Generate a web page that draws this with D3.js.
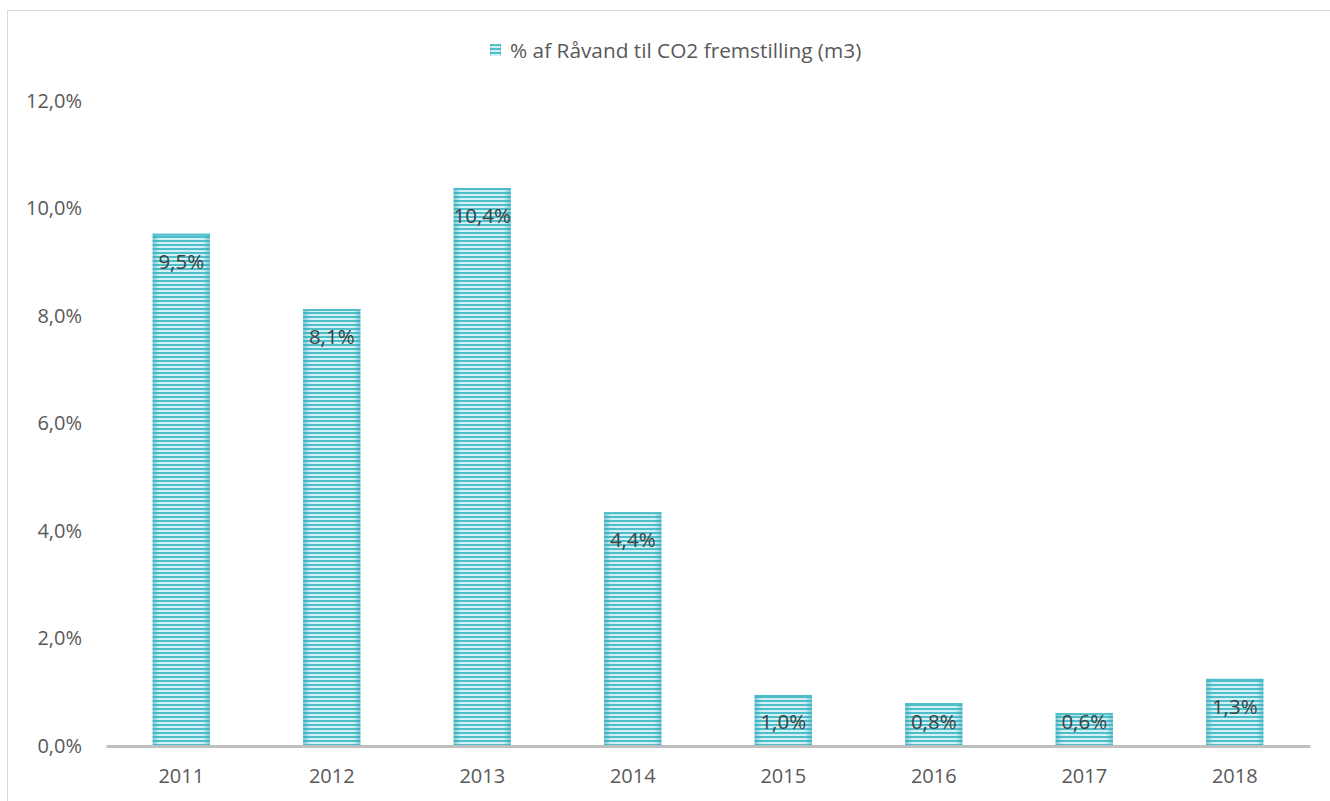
<!DOCTYPE html>
<html>
<head>
<meta charset="utf-8">
<script src="https://cdn.jsdelivr.net/npm/d3@7"></script>
<style>
  html, body { margin: 0; padding: 0; background: #fff; }
  svg { display: block; }
  text { font-family: "Open Sans", "Noto Sans", sans-serif; }
</style>
</head>
<body>
<svg id="chart" width="1330" height="801"></svg>
<script>
const categories = ["2011", "2012", "2013", "2014", "2015", "2016", "2017", "2018"];
const values = [9.53, 8.13, 10.38, 4.35, 0.95, 0.8, 0.61, 1.25];
const valueLabels = ["9,5%", "8,1%", "10,4%", "4,4%", "1,0%", "0,8%", "0,6%", "1,3%"];
const yTicks = [0, 2, 4, 6, 8, 10, 12];
const yTickLabels = ["0,0%", "2,0%", "4,0%", "6,0%", "8,0%", "10,0%", "12,0%"];
const seriesName = "% af Råvand til CO2 fremstilling (m3)";

const svg = d3.select("#chart");
const W = 1330, H = 801;

// outer chart border (light gray)
svg.append("line").attr("x1", 7.5).attr("x2", W).attr("y1", 10.5).attr("y2", 10.5)
  .attr("stroke", "#D9D9D9").attr("stroke-width", 1);
svg.append("line").attr("x1", 7.5).attr("x2", 7.5).attr("y1", 10.5).attr("y2", H)
  .attr("stroke", "#D9D9D9").attr("stroke-width", 1);

const defs = svg.append("defs");
const pat = defs.append("pattern").attr("id", "stripes")
  .attr("patternUnits", "userSpaceOnUse").attr("width", 8).attr("height", 4);
pat.append("rect").attr("width", 8).attr("height", 4).attr("fill", "#D3F0F4");
pat.append("rect").attr("y", 0).attr("width", 8).attr("height", 2).attr("fill", "#4EBECB");

const grad = defs.append("linearGradient").attr("id", "edge")
  .attr("x1", "0%").attr("x2", "100%").attr("y1", "0%").attr("y2", "0%");
grad.append("stop").attr("offset", "0%").attr("stop-color", "#2FA7B8").attr("stop-opacity", 0.55);
grad.append("stop").attr("offset", "12%").attr("stop-color", "#2FA7B8").attr("stop-opacity", 0.0);
grad.append("stop").attr("offset", "88%").attr("stop-color", "#2FA7B8").attr("stop-opacity", 0.0);
grad.append("stop").attr("offset", "100%").attr("stop-color", "#2FA7B8").attr("stop-opacity", 0.55);

const x = d3.scaleBand().domain(categories).range([106, 1310]).paddingInner(0.62).paddingOuter(0.31);
const y = d3.scaleLinear().domain([0, 12]).range([746, 101]);

// y axis labels
const yAxis = d3.axisLeft(y).tickValues(yTicks).tickSize(0)
  .tickFormat((d, i) => yTickLabels[i]);
const gy = svg.append("g").attr("transform", "translate(85,0)").call(yAxis);
gy.select(".domain").remove();
gy.selectAll("text").attr("font-size", 20).attr("fill", "#595959").attr("dx", 0);

// bars
const bars = svg.append("g");
categories.forEach((c, i) => {
  const bx = x(c), bw = x.bandwidth(), by = y(values[i]), bh = y(0) - y(values[i]);
  bars.append("rect").attr("x", bx).attr("y", by).attr("width", bw).attr("height", bh)
    .attr("fill", "url(#stripes)");
  bars.append("rect").attr("x", bx).attr("y", by).attr("width", bw).attr("height", bh)
    .attr("fill", "url(#edge)");
  bars.append("rect").attr("x", bx).attr("y", by).attr("width", bw).attr("height", 2)
    .attr("fill", "#4EBECB");
});

// value labels (inside end)
svg.append("g").selectAll("text").data(categories).join("text")
  .attr("x", d => x(d) + x.bandwidth() / 2)
  .attr("y", (d, i) => Math.min(y(values[i]) + 27, 721))
  .attr("text-anchor", "middle").attr("dominant-baseline", "central")
  .attr("font-size", 20.5).attr("fill", "#404040")
  .text((d, i) => valueLabels[i]);

// x axis
const xAxis = d3.axisBottom(x).tickSize(0).tickPadding(23);
const gx = svg.append("g").attr("transform", "translate(0,746)").call(xAxis);
gx.select(".domain").attr("stroke", "#BFBFBF").attr("stroke-width", 3);
gx.selectAll("text").attr("font-size", 20).attr("fill", "#595959");

// legend
const lg = svg.append("g").attr("transform", "translate(490,44)");
lg.append("rect").attr("width", 11).attr("height", 12).attr("fill", "url(#stripes)");
lg.append("rect").attr("width", 11).attr("height", 12).attr("fill", "url(#edge)");
lg.append("text").attr("x", 20).attr("y", 6).attr("dominant-baseline", "central")
  .attr("font-size", 20.8).attr("fill", "#595959").text(seriesName);
</script>
</body>
</html>
